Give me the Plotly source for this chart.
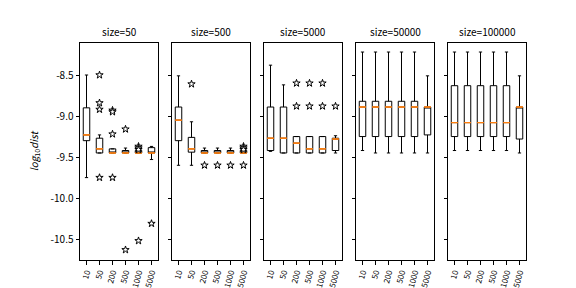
import plotly.graph_objects as go
from plotly.subplots import make_subplots

categories = ["10", "50", "200", "500", "1000", "5000"]
panel_titles = ["size=50", "size=500", "size=5000", "size=50000", "size=100000"]
ytick_vals = [-8.5, -9.0, -9.5, -10.0, -10.5]
ytick_text = ["-8.5", "-9.0", "-9.5", "-10.0", "-10.5"]

# size=50
p1_lower = [-9.74, -9.44, -9.44, -9.44, -9.44, -9.52]
p1_q1 = [-9.29, -9.44, -9.44, -9.44, -9.44, -9.44]
p1_med = [-9.22, -9.39, -9.44, -9.44, -9.44, -9.44]
p1_q3 = [-8.89, -9.26, -9.39, -9.41, -9.41, -9.375]
p1_upper = [-8.49, -9.22, -9.39, -9.38, -9.41, -9.36]
p1_flier_cat = ["50", "50", "50", "50", "200", "200", "200", "200", "500", "500", "1000", "1000", "1000", "1000", "5000"]
p1_flier_val = [-8.49, -8.83, -8.91, -9.74, -8.92, -8.94, -9.21, -9.74, -9.15, -10.62, -9.36, -9.38, -9.40, -10.51, -10.30]

# size=500
p2_lower = [-9.59, -9.59, -9.44, -9.44, -9.44, -9.44]
p2_q1 = [-9.29, -9.43, -9.44, -9.44, -9.44, -9.44]
p2_med = [-9.04, -9.39, -9.44, -9.44, -9.44, -9.44]
p2_q3 = [-8.88, -9.25, -9.41, -9.41, -9.41, -9.41]
p2_upper = [-8.50, -9.06, -9.38, -9.38, -9.38, -9.41]
p2_flier_cat = ["50", "200", "500", "1000", "5000", "5000", "5000", "5000"]
p2_flier_val = [-8.60, -9.59, -9.59, -9.59, -9.36, -9.38, -9.40, -9.59]

# size=5000
p3_lower = [-9.42, -9.44, -9.44, -9.44, -9.44, -9.44]
p3_q1 = [-9.41, -9.44, -9.44, -9.44, -9.44, -9.41]
p3_med = [-9.26, -9.26, -9.32, -9.39, -9.39, -9.27]
p3_q3 = [-8.88, -8.88, -9.24, -9.24, -9.24, -9.26]
p3_upper = [-8.37, -8.61, -9.24, -9.24, -9.24, -9.23]
p3_flier_cat = ["200", "200", "500", "500", "1000", "1000", "5000"]
p3_flier_val = [-8.59, -8.87, -8.59, -8.87, -8.59, -8.87, -8.87]

# size=50000
p4_lower = [-9.41, -9.44, -9.44, -9.44, -9.44, -9.44]
p4_q1 = [-9.24, -9.24, -9.24, -9.24, -9.24, -9.22]
p4_med = [-8.88, -8.88, -8.88, -8.88, -8.88, -8.88]
p4_q3 = [-8.81, -8.81, -8.81, -8.81, -8.81, -8.88]
p4_upper = [-8.21, -8.21, -8.21, -8.21, -8.21, -8.50]
p4_flier_cat = []
p4_flier_val = []

# size=100000
p5_lower = [-9.41, -9.41, -9.41, -9.41, -9.41, -9.44]
p5_q1 = [-9.24, -9.24, -9.24, -9.24, -9.24, -9.27]
p5_med = [-9.07, -9.07, -9.07, -9.07, -9.07, -8.88]
p5_q3 = [-8.62, -8.62, -8.62, -8.62, -8.62, -8.88]
p5_upper = [-8.21, -8.21, -8.21, -8.21, -8.21, -8.50]
p5_flier_cat = []
p5_flier_val = []

panels = [
    (p1_lower, p1_q1, p1_med, p1_q3, p1_upper, p1_flier_cat, p1_flier_val),
    (p2_lower, p2_q1, p2_med, p2_q3, p2_upper, p2_flier_cat, p2_flier_val),
    (p3_lower, p3_q1, p3_med, p3_q3, p3_upper, p3_flier_cat, p3_flier_val),
    (p4_lower, p4_q1, p4_med, p4_q3, p4_upper, p4_flier_cat, p4_flier_val),
    (p5_lower, p5_q1, p5_med, p5_q3, p5_upper, p5_flier_cat, p5_flier_val),
]

FONT = "Noto Sans CJK SC, DejaVu Sans, sans-serif"

fig = make_subplots(rows=1, cols=5, shared_yaxes=False, horizontal_spacing=14 / 446,
                    subplot_titles=panel_titles)

for i, (lo, q1, med, q3, up, fc, fv) in enumerate(panels):
    col = i + 1
    fig.add_trace(go.Box(x=categories, lowerfence=lo, q1=q1, median=med, q3=q3, upperfence=up,
                         fillcolor="rgba(0,0,0,0)", line=dict(color="black", width=1),
                         width=0.5, whiskerwidth=0.5, boxpoints=False, showlegend=False),
                  row=1, col=col)
    # orange median lines
    fig.add_trace(go.Box(x=categories, lowerfence=med, q1=med, median=med, q3=med, upperfence=med,
                         fillcolor="rgba(0,0,0,0)", line=dict(color="#ff7f0e", width=1),
                         width=0.5, whiskerwidth=0, boxpoints=False, showlegend=False),
                  row=1, col=col)
    if fc:
        fig.add_trace(go.Scatter(x=fc, y=fv, mode="markers",
                                 marker=dict(symbol="star", size=5.5, color="white",
                                             line=dict(color="black", width=1)),
                                 showlegend=False),
                      row=1, col=col)
    fig.update_xaxes(type="category", categoryorder="array", categoryarray=categories,
                     range=[-0.5, 5.5], tickangle=-75, ticks="outside", ticklen=3.5,
                     tickcolor="black", tickfont=dict(size=8, color="black", family=FONT),
                     showline=True, linecolor="black", linewidth=1, mirror=True,
                     showgrid=False, zeroline=False, automargin=False, row=1, col=col)
    fig.update_yaxes(range=[-10.744, -8.10], tickvals=ytick_vals, ticktext=ytick_text,
                     showticklabels=(col == 1), ticks="outside", ticklen=3.5, tickcolor="black",
                     tickfont=dict(size=10, color="black", family=FONT),
                     showline=True, linecolor="black", linewidth=1, mirror=True,
                     showgrid=False, zeroline=False, automargin=False, row=1, col=col)

fig.update_yaxes(title=dict(text="<i>log</i><sub>10</sub><i>dist</i>", standoff=10,
                            font=dict(size=10, color="black", family=FONT)), row=1, col=1)

for ann in fig.layout.annotations:
    ann.font = dict(size=10, color="black", family=FONT)
    ann.yshift = 2

fig.update_layout(width=576, height=288, margin=dict(l=72, r=58, t=35, b=36),
                  paper_bgcolor="white", plot_bgcolor="white", boxmode="overlay",
                  font=dict(family=FONT, color="black"))

fig.write_html("out.html")
